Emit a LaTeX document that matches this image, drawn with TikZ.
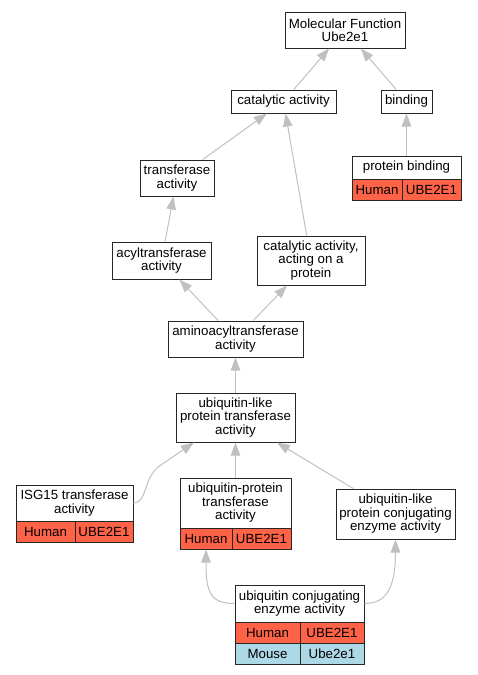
\documentclass[tikz,border=0pt]{standalone}
\usepackage{fontspec}
\setmainfont{Liberation Sans}
\usepackage{xcolor}
\usetikzlibrary{arrows.meta}
\definecolor{human}{HTML}{FF6347}
\definecolor{mouse}{HTML}{ADD8E6}
\definecolor{edgegray}{HTML}{C0C0C0}

\begin{document}
\begin{tikzpicture}[x=1pt, y=-1pt,
  every node/.style={font=\fontsize{13.3}{13.5}\selectfont, inner sep=0pt, align=center},
  term/.style={draw=black!85, line width=1pt, fill=white},
  hum/.style={term, fill=human},
  mus/.style={term, fill=mouse},
  isa/.style={draw=edgegray, line width=1pt, -{Triangle[length=13pt,width=9.5pt]}}]
\useasboundingbox (0,0) rectangle (477,675);
% terms
\node[term, minimum width=120pt, minimum height=36pt] (mf) at (345,30) {Molecular Function\\Ube2e1};
\node[term, minimum width=105pt, minimum height=23pt] (cat) at (283.5,101.5) {catalytic activity};
\node[term, minimum width=51pt, minimum height=23pt] (bind) at (406.5,101.5) {binding};
\node[term, minimum width=74pt, minimum height=36pt] (trans) at (177,178) {transferase\\activity};
\node[term, minimum width=109pt, minimum height=23pt] (pb) at (406.5,167.5) {protein binding};
\node[hum, minimum width=50pt, minimum height=21pt] (pbh) at (377,189.5) {Human};
\node[hum, minimum width=59pt, minimum height=21pt] (pbg) at (431.5,189.5) {UBE2E1};
\node[term, minimum width=99pt, minimum height=37pt] (acyl) at (161.5,260.5) {acyltransferase\\activity};
\node[term, minimum width=108pt, minimum height=49pt] (capp) at (311,260.5) {catalytic activity,\\acting on a\\protein};
\node[term, minimum width=135pt, minimum height=36pt] (amino) at (235.5,339) {aminoacyltransferase\\activity};
\node[term, minimum width=119pt, minimum height=49pt] (ubl) at (235.5,417.5) {ubiquitin-like\\protein transferase\\activity};
\node[term, minimum width=117pt, minimum height=36pt] (isg) at (74.5,503) {ISG15 transferase\\activity};
\node[hum, minimum width=59pt, minimum height=21pt] (isgh) at (45.5,531.5) {Human};
\node[hum, minimum width=58pt, minimum height=21pt] (isgg) at (104,531.5) {UBE2E1};
\node[term, minimum width=111pt, minimum height=50pt] (upt) at (235.5,503) {ubiquitin-protein\\transferase\\activity};
\node[hum, minimum width=52pt, minimum height=21pt] (upth) at (206,538.5) {Human};
\node[hum, minimum width=59pt, minimum height=21pt] (uptg) at (261.5,538.5) {UBE2E1};
\node[term, minimum width=119pt, minimum height=50pt] (ulc) at (395.5,514) {ubiquitin-like\\protein conjugating\\enzyme activity};
\node[term, minimum width=129pt, minimum height=37pt] (uce) at (299.5,603.5) {ubiquitin conjugating\\enzyme activity};
\node[hum, minimum width=65pt, minimum height=21pt] (uceh) at (267.5,632.5) {Human};
\node[hum, minimum width=64pt, minimum height=21pt] (uceg) at (332,632.5) {UBE2E1};
\node[mus, minimum width=65pt, minimum height=21pt] (ucemh) at (267.5,653.5) {Mouse};
\node[mus, minimum width=64pt, minimum height=21pt] (ucemg) at (332,653.5) {Ube2e1};
% is_a links
\draw[isa] (cat) -- (mf);
\draw[isa] (bind) -- (mf);
\draw[isa] (pb) -- (bind);
\draw[isa] (trans) -- (cat);
\draw[isa] (capp) -- (cat);
\draw[isa] (acyl) -- (trans);
\draw[isa] (amino) -- (acyl);
\draw[isa] (amino) -- (capp);
\draw[isa] (ubl) -- (amino);
\draw[isa] (isg.east) .. controls (147,503) and (143,480) .. (158,467) -- (ubl.-149);
\draw[isa] (upt) -- (ubl);
\draw[isa] (ulc) -- (ubl);
\draw[isa] (uce.west) .. controls (210,603.5) and (206,592) .. (upth.south);
\draw[isa] (uce.east) .. controls (385,603.5) and (395.5,590) .. (ulc.south);
\end{tikzpicture}
\end{document}
